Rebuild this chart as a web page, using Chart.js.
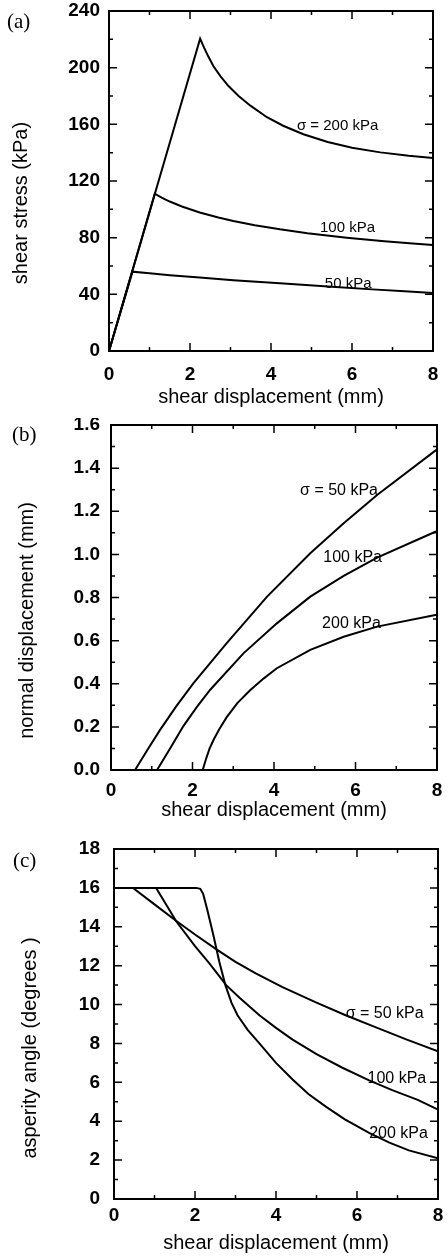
<!DOCTYPE html>
<html>
<head>
<meta charset="utf-8">
<script src="https://cdn.jsdelivr.net/npm/chart.js@4.4.0/dist/chart.umd.min.js"></script>
<style>
  body { margin: 0; background: #fff; }
  canvas { display: block; }
</style>
</head>
<body>
<canvas id="chartA" width="448" height="418"></canvas>
<canvas id="chartB" width="448" height="418"></canvas>
<canvas id="chartC" width="448" height="420"></canvas>
<script>
// (a) shear stress vs shear displacement
var dispA50 = [0, 0.58, 1.0, 1.5, 2.24, 3.07, 4.22, 5.5, 6.5, 7.3, 8.0];
var stressA50 = [0, 56, 54.8, 53.5, 51.8, 50.0, 47.8, 45.4, 43.5, 42.1, 41];
var dispA100 = [0, 1.13, 1.3, 1.5, 1.8, 2.24, 2.7, 3.07, 3.6, 4.22, 4.9, 5.87, 6.8, 7.5, 8.0];
var stressA100 = [0, 111, 108.3, 105.5, 102, 97.8, 94.3, 91.8, 88.8, 85.9, 83.2, 80, 77.4, 75.8, 74.8];
var dispA200 = [0, 2.25, 2.35, 2.45, 2.58, 2.75, 2.95, 3.2, 3.5, 3.9, 4.3, 4.8, 5.4, 6.0, 6.7, 7.4, 8.0];
var stressA200 = [0, 220.5, 214, 208, 201, 194, 187, 180, 173, 165, 159, 153, 147.5, 143.5, 140.2, 137.8, 136.3];

// (b) normal displacement vs shear displacement
var dispB50 = [0, 0.59, 0.9, 1.2, 1.6, 2.02, 2.84, 3.83, 4.89, 5.71, 6.53, 7.96, 8.0];
var normB50 = [0, 0, 0.095, 0.185, 0.295, 0.402, 0.588, 0.804, 1.005, 1.144, 1.275, 1.481, 1.486];
var dispB100 = [0, 1.13, 1.45, 1.78, 2.1, 2.43, 3.25, 4.07, 4.89, 5.71, 6.53, 7.96, 8.0];
var normB100 = [0, 0, 0.1, 0.205, 0.29, 0.371, 0.541, 0.68, 0.804, 0.9, 0.985, 1.105, 1.108];
var dispB200 = [0, 2.25, 2.33, 2.42, 2.53, 2.66, 2.84, 3.1, 3.42, 3.75, 4.07, 4.89, 5.71, 6.53, 7.96, 8.0];
var normB200 = [0, 0, 0.05, 0.1, 0.145, 0.19, 0.245, 0.31, 0.371, 0.425, 0.472, 0.557, 0.618, 0.665, 0.719, 0.72];

// (c) asperity angle vs shear displacement
var dispC50 = [0, 0.47, 1.0, 1.54, 2.0, 2.52, 3.0, 3.5, 4.16, 5.0, 5.72, 6.5, 7.2, 8.0];
var angleC50 = [16, 16, 15.15, 14.3, 13.6, 12.85, 12.2, 11.6, 10.9, 10.1, 9.45, 8.8, 8.22, 7.6];
var dispC100 = [0, 1.04, 1.54, 2.0, 2.36, 2.77, 3.1, 3.59, 4.0, 4.41, 5.0, 5.64, 6.3, 6.87, 7.5, 8.0];
var angleC100 = [16, 16, 14.27, 13.0, 12.1, 11.0, 10.35, 9.45, 8.8, 8.2, 7.45, 6.75, 6.1, 5.6, 5.1, 4.6];
var dispC200 = [0, 2.03, 2.13, 2.2, 2.3, 2.45, 2.6, 2.75, 2.9, 3.05, 3.3, 3.59, 4.0, 4.41, 4.8, 5.23, 5.7, 6.3, 6.8, 7.28, 8.0];
var angleC200 = [16, 16, 15.95, 15.7, 14.9, 13.6, 12.2, 11.0, 10.1, 9.45, 8.7, 8.0, 7.0, 6.15, 5.4, 4.75, 4.1, 3.4, 2.9, 2.5, 2.1];

var SANS = '"Liberation Sans", Arial, Helvetica, sans-serif';
var NARROW = '"Liberation Sans Narrow", "Liberation Sans", Arial, sans-serif';
var SERIF = '"Liberation Serif", "Times New Roman", serif';

function pts(xs, ys) {
  return xs.map(function (x, i) { return { x: x, y: ys[i] }; });
}

function line(xs, ys) {
  return { data: pts(xs, ys), showLine: true, borderColor: '#000', borderWidth: 2,
           pointRadius: 0, tension: 0, fill: false };
}

// frame, inward ticks, panel letter, y title and curve labels
var panelDeco = {
  id: 'panelDeco',
  afterDraw: function (chart, args, o) {
    var ctx = chart.ctx, a = chart.chartArea;
    var xs = chart.scales.x, ys = chart.scales.y;
    ctx.save();
    ctx.strokeStyle = '#000';
    ctx.fillStyle = '#000';
    ctx.lineWidth = 1.5;
    ctx.beginPath();
    var n = Math.round((xs.max - xs.min) / o.xMinor);
    var every = Math.round(o.xMajor / o.xMinor);
    for (var i = 0; i <= n; i++) {
      var px = xs.getPixelForValue(xs.min + i * o.xMinor);
      var len = (i % every === 0) ? 8 : 4;
      ctx.moveTo(px, a.bottom); ctx.lineTo(px, a.bottom - len);
      ctx.moveTo(px, a.top); ctx.lineTo(px, a.top + len);
    }
    n = Math.round((ys.max - ys.min) / o.yMinor);
    every = Math.round(o.yMajor / o.yMinor);
    for (var j = 0; j <= n; j++) {
      var py = ys.getPixelForValue(ys.min + j * o.yMinor);
      var l2 = (j % every === 0) ? 8 : 4;
      ctx.moveTo(a.left, py); ctx.lineTo(a.left + l2, py);
      ctx.moveTo(a.right, py); ctx.lineTo(a.right - l2, py);
    }
    ctx.stroke();
    ctx.lineWidth = 2;
    ctx.strokeRect(a.left, a.top, a.right - a.left, a.bottom - a.top);

    ctx.font = '21px ' + SERIF;
    ctx.textAlign = 'left';
    ctx.textBaseline = 'alphabetic';
    ctx.fillText(o.letter, o.letterX, o.letterY);

    ctx.font = o.labelSize + 'px ' + SANS;
    o.labels.forEach(function (lb) {
      ctx.fillText(lb.text, xs.getPixelForValue(lb.x), ys.getPixelForValue(lb.y));
    });

    ctx.font = '20px ' + SANS;
    ctx.translate(o.yTitleX, (a.top + a.bottom) / 2 + o.yTitleShift);
    ctx.rotate(-Math.PI / 2);
    ctx.textAlign = 'center';
    ctx.textBaseline = 'middle';
    ctx.fillText(o.yTitle, 0, 0);
    ctx.restore();
  }
};

function noPad(s) {
  s.paddingTop = 0; s.paddingBottom = 0; s.paddingLeft = 0; s.paddingRight = 0;
}

function makePanel(id, p) {
  return new Chart(document.getElementById(id), {
    type: 'scatter',
    data: { datasets: p.datasets },
    plugins: [panelDeco],
    options: {
      responsive: false,
      animation: false,
      devicePixelRatio: 1,
      layout: { padding: { left: 0, right: p.padRight, top: p.padTop, bottom: 0 } },
      plugins: { legend: { display: false }, tooltip: { enabled: false }, panelDeco: p.deco },
      scales: {
        x: {
          type: 'linear', min: 0, max: 8,
          grid: { display: false, drawTicks: false }, border: { display: false },
          ticks: { stepSize: 2, color: '#000', padding: p.xTickPad,
                   font: { family: NARROW, size: 19, weight: 'bold' } },
          title: { display: true, text: 'shear displacement (mm)', color: '#000',
                   font: { family: SANS, size: 20 }, padding: { top: 0, bottom: p.xTitlePad } },
          afterFit: function (s) { s.height = p.xHeight; noPad(s); }
        },
        y: {
          type: 'linear', min: p.yMin, max: p.yMax,
          grid: { display: false, drawTicks: false }, border: { display: false },
          ticks: { stepSize: p.yStep, color: '#000', padding: p.yTickPad,
                   font: { family: NARROW, size: 19, weight: 'bold' },
                   callback: p.yFormat },
          afterFit: function (s) { s.width = p.yWidth; noPad(s); }
        }
      }
    }
  });
}

makePanel('chartA', {
  datasets: [line(dispA50, stressA50), line(dispA100, stressA100), line(dispA200, stressA200)],
  padRight: 15, padTop: 11, xHeight: 67, yWidth: 109,
  xTickPad: 12, xTitlePad: 9, yTickPad: 9,
  yMin: 0, yMax: 240, yStep: 40,
  yFormat: function (v) { return v; },
  deco: {
    letter: '(a)', letterX: 7, letterY: 28,
    yTitle: 'shear stress (kPa)', yTitleX: 21, yTitleShift: 22,
    xMinor: 1, xMajor: 2, yMinor: 20, yMajor: 40, labelSize: 15,
    labels: [
      { text: '\u03c3 = 200 kPa', x: 4.64, y: 156 },
      { text: '100 kPa', x: 5.21, y: 84 },
      { text: '50 kPa', x: 5.33, y: 44.5 }
    ]
  }
});

makePanel('chartB', {
  datasets: [line(dispB50, normB50), line(dispB100, normB100), line(dispB200, normB200)],
  padRight: 11, padTop: 7, xHeight: 66, yWidth: 111,
  xTickPad: 9, xTitlePad: 14, yTickPad: 11,
  yMin: 0, yMax: 1.6, yStep: 0.2,
  yFormat: function (v) { return v.toFixed(1); },
  deco: {
    letter: '(b)', letterX: 12, letterY: 23,
    yTitle: 'normal displacement (mm)', yTitleX: 27, yTitleShift: 23,
    xMinor: 1, xMajor: 2, yMinor: 0.1, yMajor: 0.2, labelSize: 16,
    labels: [
      { text: '\u03c3 = 50 kPa', x: 4.64, y: 1.275 },
      { text: '100 kPa', x: 5.21, y: 0.965 },
      { text: '200 kPa', x: 5.18, y: 0.659 }
    ]
  }
});

makePanel('chartC', {
  datasets: [line(dispC50, angleC50), line(dispC100, angleC100), line(dispC200, angleC200)],
  padRight: 10, padTop: 13, xHeight: 57, yWidth: 114,
  xTickPad: 5, xTitlePad: 1, yTickPad: 14,
  yMin: 0, yMax: 18, yStep: 2,
  yFormat: function (v) { return v; },
  deco: {
    letter: '(c)', letterX: 13, letterY: 31,
    yTitle: 'asperity angle (degrees )', yTitleX: 30, yTitleShift: 24,
    xMinor: 1, xMajor: 2, yMinor: 1, yMajor: 2, labelSize: 16,
    labels: [
      { text: '\u03c3 = 50 kPa', x: 5.72, y: 9.31 },
      { text: '100 kPa', x: 6.26, y: 5.96 },
      { text: '200 kPa', x: 6.30, y: 3.13 }
    ]
  }
});
</script>
</body>
</html>
